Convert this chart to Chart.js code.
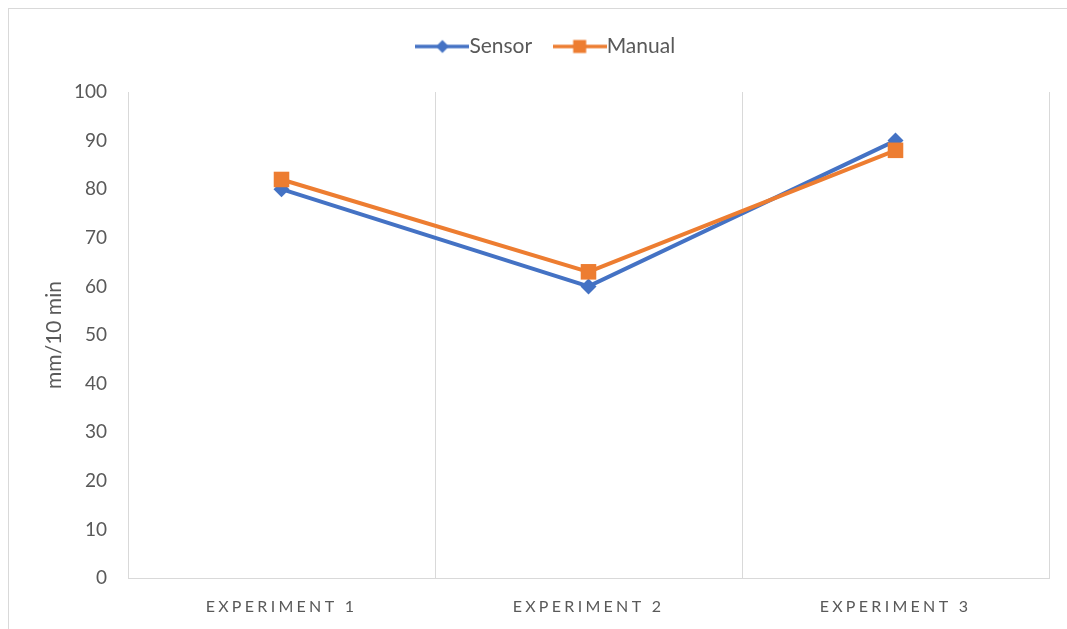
<!DOCTYPE html>
<html>
<head>
<meta charset="utf-8">
<script src="https://cdn.jsdelivr.net/npm/chart.js@4/dist/chart.umd.min.js"></script>
<style>
  html, body { margin: 0; padding: 0; background: #ffffff; overflow: hidden; }
  #c { display: block; }
</style>
</head>
<body>
<canvas id="c" width="1067" height="629" style="width:1067px;height:629px"></canvas>
<script>
const categories = ['EXPERIMENT 1', 'EXPERIMENT 2', 'EXPERIMENT 3'];
const sensorValues = [80, 60, 90];
const manualValues = [82, 63, 88];
const seriesNames = ['Sensor', 'Manual'];
const yMin = 0, yMax = 100, yStep = 10;
const yTitle = 'mm/10 min';

const BLUE = '#4472C4';
const ORANGE = '#ED7D31';
const TEXT = '#595959';
const GRID = '#d9d9d9';
const FONT = 'Lato, "Open Sans", sans-serif';

function makeIcon(color, kind) {
  const cv = document.createElement('canvas');
  cv.width = 54; cv.height = 16;
  const g = cv.getContext('2d');
  g.strokeStyle = color; g.fillStyle = color; g.lineWidth = 3.5;
  g.beginPath(); g.moveTo(0, 8); g.lineTo(54, 8); g.stroke();
  if (kind === 'diamond') {
    g.beginPath(); g.moveTo(27 - 6.5, 8); g.lineTo(27, 1.5); g.lineTo(27 + 6.5, 8); g.lineTo(27, 14.5); g.closePath(); g.fill();
  } else {
    g.fillRect(27 - 6.5, 8 - 6.5, 13, 13);
  }
  return cv;
}
const legendIcons = [makeIcon(BLUE, 'diamond'), makeIcon(ORANGE, 'square')];

const layoutPlugin = {
  id: 'layoutTweaks',
  beforeLayout(chart) {
    const lg = chart.legend;
    if (lg && !lg._patched) {
      const f = lg.fit;
      lg.fit = function () { f.call(this); this.height = 92 - 3; };
      const d = lg.draw;
      lg.draw = function () {
        const ctx = this.ctx;
        ctx.save();
        ctx.translate(6, 2);
        d.call(this);
        ctx.restore();
      };
      lg._patched = true;
    }
    const sx = chart.scales.x;
    if (sx && !sx._patched) {
      const dl = sx.drawLabels;
      sx.drawLabels = function (ca) {
        const ctx = this.ctx;
        ctx.save();
        ctx.letterSpacing = '3.3px';
        dl.call(this, ca);
        ctx.restore();
      };
      sx._patched = true;
    }
  },
  beforeDraw(chart) {
    const ctx = chart.ctx;
    ctx.save();
    ctx.fillStyle = '#ffffff';
    ctx.fillRect(0, 0, chart.width, chart.height);
    ctx.strokeStyle = GRID;
    ctx.lineWidth = 1;
    ctx.strokeRect(8.5, 8.5, 1200, 800);
    ctx.restore();
  }
};

new Chart(document.getElementById('c'), {
  type: 'line',
  data: {
    labels: categories,
    datasets: [
      {
        label: seriesNames[0], data: sensorValues, borderColor: BLUE, backgroundColor: BLUE,
        borderWidth: 4, pointStyle: 'rectRot', pointRadius: 8, pointBorderWidth: 0,
        pointBackgroundColor: BLUE, tension: 0, order: 2
      },
      {
        label: seriesNames[1], data: manualValues, borderColor: ORANGE, backgroundColor: ORANGE,
        borderWidth: 4, pointStyle: 'rect', pointRadius: 11, pointBorderWidth: 0,
        pointBackgroundColor: ORANGE, tension: 0, order: 1
      }
    ]
  },
  options: {
    responsive: false,
    animation: false,
    devicePixelRatio: 1,
    layout: { padding: { left: 40, right: 18, top: 3, bottom: 0 } },
    plugins: {
      legend: {
        position: 'top',
        labels: {
          usePointStyle: true,
          pointStyleWidth: 33,
          boxHeight: 16,
          padding: 31,
          color: TEXT,
          font: { family: FONT, size: 21 },
          sort: (a, b) => a.datasetIndex - b.datasetIndex,
          generateLabels(chart) {
            const items = Chart.defaults.plugins.legend.labels.generateLabels(chart);
            items.forEach((it) => { it.pointStyle = legendIcons[it.datasetIndex]; });
            return items;
          }
        }
      },
      tooltip: { enabled: false }
    },
    scales: {
      x: {
        offset: true,
        grid: { display: true, offset: true, color: GRID, lineWidth: 1, drawTicks: false },
        border: { display: true, color: GRID, width: 1 },
        ticks: { color: TEXT, font: { family: FONT, size: 16 }, padding: 19, maxRotation: 0 },
        afterFit(s) { s.height = 51; }
      },
      y: {
        min: yMin, max: yMax,
        grid: { display: false, drawTicks: false },
        border: { display: false },
        ticks: { stepSize: yStep, color: TEXT, font: { family: FONT, size: 19 }, padding: 21 },
        title: { display: true, text: yTitle, color: TEXT, font: { family: FONT, size: 21 }, padding: { top: 2, bottom: 0 } },
        afterFit(s) { s.width = 88; }
      }
    }
  },
  plugins: [layoutPlugin]
});
</script>
</body>
</html>
